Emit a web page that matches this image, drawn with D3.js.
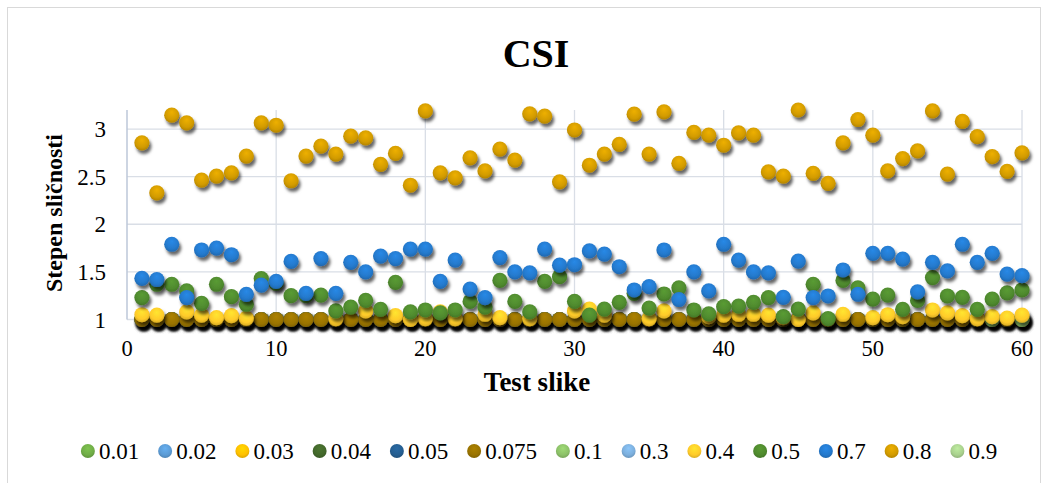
<!DOCTYPE html>
<html>
<head>
<meta charset="utf-8">
<script src="https://cdn.jsdelivr.net/npm/d3@7"></script>
<style>
  body { margin: 0; background: #fff; }
  svg  { display: block; font-family: "Liberation Serif", "Times New Roman", serif; }
</style>
</head>
<body>
<svg id="chart" width="1054" height="483"></svg>
<script>
/* ───────────── Datos ───────────── */
const SERIES = ['0.01','0.02','0.03','0.04','0.05','0.075','0.1','0.3','0.4','0.5','0.7','0.8','0.9'];
const COLORS = ['#70AD47','#5B9BD5','#FFC000','#43682B','#255E91','#997300',
                '#8CC168','#7CAFDD','#FFCB2A','#4F8A2E','#2479CC','#D29B00','#A9D18E'];

const X_TICKS = [0, 10, 20, 30, 40, 50, 60];
const Y_TICKS = [1, 1.5, 2, 2.5, 3];

const S_001 = [1,1,1,1,1,1,1,1,1,1,1,1,1,1,1,1,1,1,1,1,1,1,1,1,1,1,1,1,1,1,1,1,1,1,1,1,1,1,1,1,1,1,1,1,1,1,1,1,1,1,1,1,1,1,1,1,1,1,1,1];
const S_002 = [1,1,1,1,1,1,1,1,1,1,1,1,1,1,1,1,1,1,1,1,1,1,1,1,1,1,1,1,1,1,1,1,1,1,1,1,1,1,1,1,1,1,1,1,1,1,1,1,1,1,1,1,1,1,1,1,1,1,1,1];
const S_003 = [1,1,1,1,1,1,1,1,1,1,1,1,1,1,1,1,1,1,1,1,1,1,1,1,1,1,1,1,1,1,1,1,1,1,1,1,1,1,1,1,1,1,1,1,1,1,1,1,1,1,1,1,1,1,1,1,1,1,1,1];
const S_004 = [1,1,1,1,1,1,1,1,1,1,1,1,1,1,1,1,1,1,1,1,1,1,1,1,1,1,1,1,1,1,1,1,1,1,1,1,1,1,1,1,1,1,1,1,1,1,1,1,1,1,1,1,1,1,1,1,1,1,1,1];
const S_005 = [1,1,1,1,1,1,1,1,1,1,1,1,1,1,1,1,1,1,1,1,1,1,1,1,1,1,1,1,1,1,1,1,1,1,1,1,1,1,1,1,1,1,1,1,1,1,1,1,1,1,1,1,1,1,1,1,1,1,1,1];
const S_0075 = [1,1,1,1,1,1,1,1,1,1,1,1,1,1,1,1,1,1,1,1,1,1,1,1,1,1,1,1,1,1,1,1,1,1,1,1,1,1,1,1,1,1,1,1,1,1,1,1,1,1,1,1,1,1,1,1,1,1,1,1];
const S_01 = [0.98,0.98,0.98,0.98,0.98,0.98,0.98,0.98,0.98,0.98,0.98,0.98,0.98,0.98,0.98,0.98,0.98,0.98,0.98,0.98,
              0.98,0.98,0.98,0.98,0.98,0.98,0.98,0.98,0.98,0.98,0.98,0.98,0.98,0.98,0.98,0.98,0.98,0.98,0.98,0.98,
              0.98,0.98,0.98,0.98,0.98,0.98,0.98,0.98,0.98,0.98,0.98,0.98,0.98,0.98,0.98,0.98,0.98,1,0.98,1];
const S_03 = [0.97,0.97,0.97,0.97,0.97,0.97,0.97,0.97,0.97,0.97,0.97,0.97,0.97,0.97,0.97,0.97,0.97,0.97,0.97,0.97,
              0.97,0.97,0.97,0.97,0.97,0.97,0.97,0.97,0.97,0.97,0.97,0.97,0.97,0.97,0.97,0.97,0.97,0.97,0.97,0.97,
              0.97,0.97,0.97,0.97,0.97,0.97,0.97,0.97,0.97,0.97,0.97,0.97,0.97,0.97,0.97,0.97,0.97,0.97,0.97,0.97];
const S_04 = [1.05,1.045,0.99,1.08,1.045,1.02,1.04,1.015,0.99,0.99,0.99,0.99,0.99,1.01,0.99,1.09,0.99,1.04,1.0,1.01,
              1.08,1.01,0.99,1.055,1.02,0.99,1.01,0.99,0.99,1.09,1.11,1.045,0.99,0.99,1.01,1.09,0.99,0.99,1.03,1.045,
              1.055,1.055,1.045,1.02,1.0,1.07,0.99,1.055,0.99,1.02,1.05,1.03,0.99,1.10,1.07,1.04,1.01,1.03,1.015,1.045];
const S_05 = [1.23,1.37,1.37,1.30,1.17,1.37,1.24,1.16,1.43,1.38,1.25,1.25,1.257,1.09,1.13,1.20,1.107,1.39,1.08,1.10,
              1.07,1.10,1.19,1.13,1.41,1.19,1.08,1.40,1.45,1.19,1.045,1.11,1.18,1.275,1.12,1.268,1.333,1.10,1.06,1.135,
              1.14,1.18,1.23,1.03,1.11,1.37,1.01,1.41,1.333,1.215,1.257,1.107,1.20,1.44,1.247,1.233,1.107,1.215,1.28,1.31];
const S_07 = [1.432,1.42,1.79,1.23,1.73,1.75,1.68,1.264,1.36,1.40,1.61,1.275,1.64,1.275,1.60,1.50,1.666,1.64,1.74,1.74,
              1.40,1.624,1.32,1.23,1.65,1.50,1.49,1.74,1.57,1.575,1.72,1.687,1.554,1.31,1.345,1.73,1.21,1.50,1.30,1.79,
              1.624,1.50,1.49,1.233,1.614,1.23,1.247,1.52,1.265,1.695,1.695,1.635,1.29,1.60,1.51,1.79,1.60,1.695,1.477,1.46];
const S_08 = [2.855,2.33,3.146,3.065,2.464,2.506,2.54,2.716,3.065,3.04,2.457,2.716,2.82,2.737,2.925,2.908,2.63,2.744,2.41,3.19,
              2.54,2.488,2.698,2.56,2.79,2.674,3.16,3.135,2.446,2.99,2.62,2.737,2.84,3.156,2.737,3.18,2.64,2.964,2.936,2.83,
              2.96,2.936,2.55,2.506,3.2,2.534,2.43,2.855,3.10,2.936,2.56,2.69,2.77,3.19,2.527,3.08,2.92,2.71,2.555,2.75];
const S_09 = [0.96,0.96,0.96,0.96,0.96,0.96,0.96,0.96,0.96,0.96,0.96,0.96,0.96,0.96,0.96,0.96,0.96,0.96,0.96,0.96,
              0.96,0.96,0.96,0.96,0.96,0.96,0.96,0.96,0.96,0.96,0.96,0.96,0.96,0.96,0.96,0.96,0.96,0.96,0.96,0.96,
              0.96,0.96,0.96,0.96,0.96,0.96,0.96,0.96,0.96,0.96,0.96,0.96,0.96,0.96,0.96,0.96,0.96,0.96,0.96,0.96];

const VALUES = [S_001, S_002, S_003, S_004, S_005, S_0075, S_01, S_03, S_04, S_05, S_07, S_08, S_09];

/* ───────────── Layout ───────────── */
const svg = d3.select('#chart');
const M = { left: 127, right: 1022, top: 110, bottom: 319.5 };
const Y_MIN = 1, Y_MAX = 3.2;

const x = d3.scaleLinear().domain([0, 60]).range([M.left, M.right]);
const y = d3.scaleLinear().domain([Y_MIN, Y_MAX]).range([M.bottom, M.top]);

/* marco del gráfico */
svg.append('rect')
  .attr('x', 7.5).attr('y', 7.5).attr('width', 1033).attr('height', 490)
  .attr('fill', '#fff').attr('stroke', '#D9D9D9');

/* === Defs: sombra + degradados ============================ */
const defs = svg.append('defs');
const shadow = defs.append('filter').attr('id', 'shadow')
  .attr('x', '-50%').attr('y', '-50%').attr('width', '200%').attr('height', '200%');
shadow.append('feDropShadow')
  .attr('dx', 2).attr('dy', 3.5).attr('stdDeviation', 1.8)
  .attr('flood-color', '#000').attr('flood-opacity', 0.6);

COLORS.forEach((c, i) => {
  const g = defs.append('radialGradient').attr('id', `grad${i}`)
    .attr('cx', '50%').attr('cy', '40%').attr('r', '60%').attr('fx', '50%').attr('fy', '30%');
  g.append('stop').attr('offset', '0%').attr('stop-color', d3.color(c).brighter(0.35));
  g.append('stop').attr('offset', '70%').attr('stop-color', c);
  g.append('stop').attr('offset', '100%').attr('stop-color', d3.color(c).darker(0.45));
});

/* === Rejilla =============================================== */
const grid = svg.append('g').attr('stroke', '#D9DEE6').attr('stroke-width', 1.3);
grid.selectAll('line.h')
  .data(Y_TICKS)
  .join('line').attr('class', 'h')
    .attr('x1', M.left).attr('x2', M.right)
    .attr('y1', d => y(d)).attr('y2', d => y(d));
grid.selectAll('line.v')
  .data(X_TICKS.slice(1))
  .join('line').attr('class', 'v')
    .attr('x1', d => x(d)).attr('x2', d => x(d))
    .attr('y1', M.top).attr('y2', M.bottom);

/* eje Y */
svg.append('line')
  .attr('x1', M.left).attr('x2', M.left).attr('y1', M.top).attr('y2', M.bottom)
  .attr('stroke', '#BCC7D8').attr('stroke-width', 1.5);

/* === Etiquetas de ejes ===================================== */
svg.append('g')
  .selectAll('text')
  .data(Y_TICKS)
  .join('text')
    .attr('x', 106).attr('y', d => y(d)).attr('dy', '0.35em')
    .attr('text-anchor', 'end').attr('font-size', 23).attr('fill', '#000')
    .text(d => d);

svg.append('g')
  .selectAll('text')
  .data(X_TICKS)
  .join('text')
    .attr('x', d => x(d)).attr('y', 356)
    .attr('text-anchor', 'middle').attr('font-size', 22.5).attr('fill', '#000')
    .text(d => d);

svg.append('text')
  .attr('transform', 'translate(62,213) rotate(-90)')
  .attr('text-anchor', 'middle').attr('font-size', 24).attr('font-weight', 'bold')
  .text('Stepen sličnosti');

svg.append('text')
  .attr('x', 537).attr('y', 391)
  .attr('text-anchor', 'middle').attr('font-size', 27).attr('font-weight', 'bold')
  .text('Test slike');

svg.append('text')
  .attr('x', 536).attr('y', 67)
  .attr('text-anchor', 'middle').attr('font-size', 40).attr('font-weight', 'bold')
  .text('CSI');

/* === Puntos (orden de series = orden de dibujo) ============ */
SERIES.forEach((name, s) => {
  const pts = VALUES[s]
    .map((v, i) => ({ i: i + 1, v }))
    .filter(d => d.v >= Y_MIN && d.v <= Y_MAX);

  svg.append('g')
    .attr('filter', 'url(#shadow)')
    .selectAll('circle')
    .data(pts)
    .join('circle')
      .attr('cx', d => x(d.i))
      .attr('cy', d => y(d.v))
      .attr('r', 7.6)
      .attr('fill', `url(#grad${s})`);
});

/* === Leyenda =============================================== */
const leg = svg.append('g');
let cx = 0;
SERIES.forEach((name, s) => {
  const it = leg.append('g').attr('transform', `translate(${cx},0)`);
  it.append('circle').attr('r', 7).attr('fill', `url(#grad${s})`);
  const t = it.append('text')
    .attr('x', 11).attr('y', 7.8).attr('font-size', 23).text(name);
  cx += 11 + t.node().getComputedTextLength() + 26;
});
const legW = cx - 26 + 7;
leg.attr('transform', `translate(${539 - legW / 2 + 7},451)`);
</script>
</body>
</html>
